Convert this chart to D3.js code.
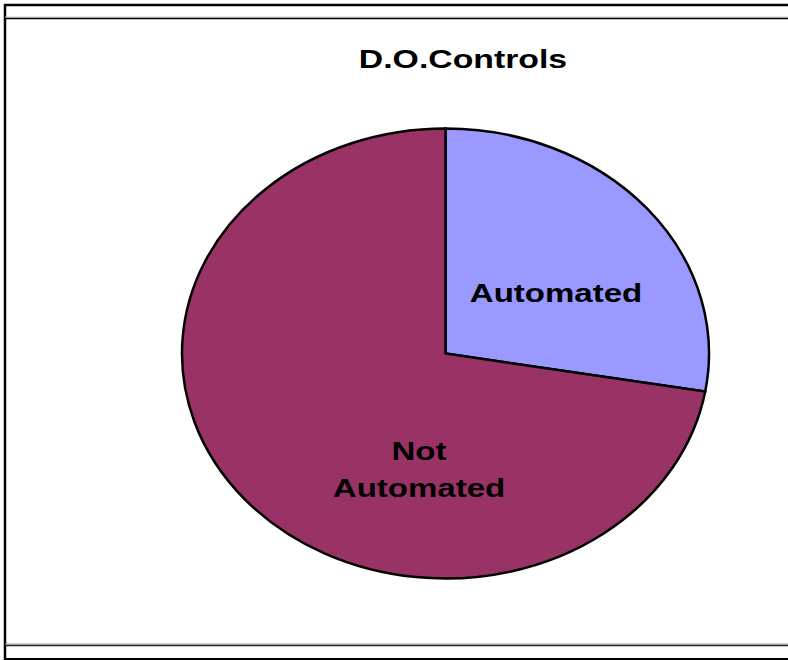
<!DOCTYPE html>
<html><head><meta charset="utf-8">
<script src="https://cdn.jsdelivr.net/npm/d3@7"></script>
<style>html,body{margin:0;padding:0;background:#fff;}svg{display:block;}</style>
</head><body>
<script>
const title = "D.O.Controls";
const categories = ["Automated", "Not Automated"];
const values = [27.7, 72.3];
const colors = ["#9999FF", "#993366"];
const labelLines = [["Automated"], ["Not", "Automated"]];

const W = 788, H = 660;
const svg = d3.select("body").append("svg").attr("width", W).attr("height", H);

// frame
svg.append("line").attr("x1",4).attr("x2",W).attr("y1",5).attr("y2",5).attr("stroke","#000").attr("stroke-width",2.5);
svg.append("line").attr("x1",5).attr("x2",5).attr("y1",4).attr("y2",H).attr("stroke","#000").attr("stroke-width",2.5);
svg.append("line").attr("x1",5).attr("x2",W).attr("y1",17).attr("y2",17).attr("stroke","#ccc").attr("stroke-width",1);
svg.append("line").attr("x1",5).attr("x2",W).attr("y1",18.5).attr("y2",18.5).attr("stroke","#000").attr("stroke-width",1.5);
svg.append("line").attr("x1",5).attr("x2",W).attr("y1",644).attr("y2",644).attr("stroke","#999").attr("stroke-width",1);
svg.append("line").attr("x1",5).attr("x2",W).attr("y1",645.5).attr("y2",645.5).attr("stroke","#222").attr("stroke-width",1.5);
svg.append("line").attr("x1",5).attr("x2",W).attr("y1",659).attr("y2",659).attr("stroke","#000").attr("stroke-width",2);

const fontStr = "'Liberation Sans', Arial, sans-serif";
// title
svg.append("text").attr("transform","translate(463,68) scale(1.3,1)")
  .attr("text-anchor","middle").attr("font-family",fontStr)
  .attr("font-weight","bold").attr("font-size",26).attr("fill","#000").text(title);

// pie
const cx = 445.5, cy = 353.5, rx = 263.5, ry = 225;
const R = 100;
const pie = d3.pie().sort(null).value(d => d)(values);
const arc = d3.arc().innerRadius(0).outerRadius(R);
const g = svg.append("g").attr("transform", `translate(${cx},${cy}) scale(${rx/R},${ry/R})`);
g.selectAll("path").data(pie).enter().append("path")
  .attr("d", arc).attr("fill", (d,i) => colors[i])
  .attr("stroke","#000").attr("stroke-width",2.5)
  .attr("vector-effect","non-scaling-stroke");

// labels
const labelPos = [[556, 302, 0], [419, 460, 37]];
categories.forEach((c,i) => {
  const [x,y,lh] = labelPos[i];
  labelLines[i].forEach((ln,j) => {
    svg.append("text").attr("transform",`translate(${x},${y + j*lh}) scale(1.27,1)`)
      .attr("text-anchor","middle").attr("font-family",fontStr)
      .attr("font-weight","bold").attr("font-size",26).attr("fill","#000").text(ln);
  });
});
</script>
</body></html>
